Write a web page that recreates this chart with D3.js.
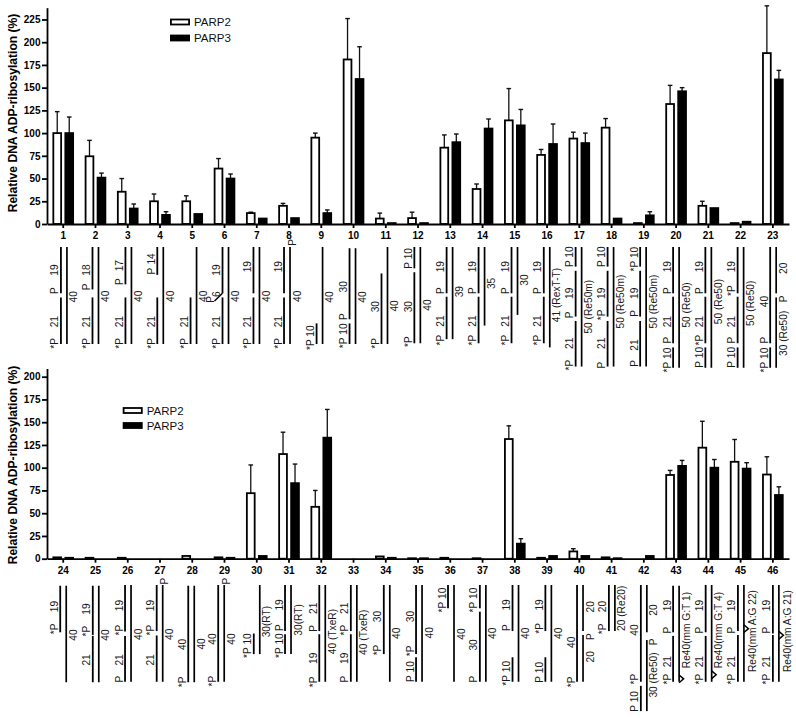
<!DOCTYPE html>
<html><head><meta charset="utf-8">
<script src="https://cdn.jsdelivr.net/npm/d3@7"></script>
<style>
html,body{margin:0;padding:0;background:#fff}
svg{display:block}
text{font-family:"Liberation Sans",Arial,sans-serif}
</style></head><body><div id="chart"></div>
<script>
const seriesNames = ["PARP2","PARP3"];
const categoriesTop = d3.range(1,24).map(String);
const categoriesBottom = d3.range(24,47).map(String);
const yTicksTop = [0,25,50,75,100,125,150,175,200,225];
const yTicksBottom = [0,25,50,75,100,125,150,175,200];
const yTitle = "Relative DNA ADP-ribosylation (%)";

const parp2Top =    [100,74.5,35.5,25,25,61,12,20,95,181,6,6.5,84,38.5,114,76,94,106,1,132,20,1,188];
const parp2TopErr = [123.6,92,50,33,31,72,13,22.7,100,226,12,13,98,44,149,82,101,116,null,152.5,25,null,240];
const parp3Top =    [100,51,17,10,11,50,6,6.5,12,159.5,1,1,90,105,108.5,88,89,6,9.5,146,17.5,2.5,159];
const parp3TopErr = [117.7,56,22,13.5,null,55,null,null,15.5,195,null,null,99,115.5,126,110,100,null,13.5,150,null,null,169];

const parp2Bottom =    [1.5,1,1,0,3,1.5,72,115,57,0,2.5,0.5,1,0.5,131.5,1,8,1.5,0,92,122,106.5,92.5];
const parp2BottomErr = [null,null,null,null,null,null,103,139,75,null,null,null,null,null,146,null,11,null,null,97,151,131,112];
const parp3Bottom =    [1,0,0,0,0,1,3,83,133,0,1,0.5,0,0,16.5,3,3,0.5,3,102,100,99,70];
const parp3BottomErr = [null,null,null,null,null,null,null,104,164,null,null,null,null,null,22,null,null,null,null,108,109,105.5,79];

// Substrate sketches: strands and labels, in nucleotide units counted from the top of the duplex.
const std = (a,b,c,d,r) => [["*P","l",39.7],["21","l",30.8],["P","l",a],[b,"l",c],[d,"r",r]];
const diagramsTop = [
 {l:[[0,19.1],[20.8,40]],r:[[0,40]],t:std(18,"19",9.5,"40",20.5)},
 {l:[[0,17.5],[20.8,40]],r:[[0,40]],t:std(16.4,"18",9.5,"40",20.3)},
 {l:[[0,15.4],[20.8,40]],r:[[0,40]],t:std(14.3,"17",7.7,"40",20.3)},
 {l:[[0,11.5],[20.8,40]],r:[[0,40]],t:std(9.9,"14",4.9,"40",20.3)},
 {l:[[20.8,40]],r:[[0,40]],t:[["*P","l",39.7],["21","l",30.8],["40","r",20.3]]},
 {l:[[0,19.1],[20.8,40]],r:[[0,40]],flap:true,t:[["*P","l",39.7],["21","l",30.8],["P","f",21.6],["6","l",19.5],["19","l",9.5],["40","r",20.3]]},
 {l:[[0,19.1],[20.8,40]],r:[[0,40]],t:[["*P","l",39.7],["21","l",30.8],["19","l",8.1],["40","r",20.3]]},
 {l:[[0,19.1],[20.8,40]],r:[[0,40]],t:[["*P","l",39.7],["21","l",30.8],["19","l",8.1],["40","r",20.3],["P","c",-1.9]]},
 {l:[[31.5,40]],r:[[0,40]],t:[["*P 10","l",37.4],["40","r",20.6]]},
 {l:[[0.5,29.8],[31.5,40]],r:[[0.5,40]],t:[["*P 10","l",36.6],["P","l",28.7],["30","l",16.4],["40","r",20.6]]},
 {l:[[10.9,40]],r:[[0,40]],t:[["*P","l",39.7],["30","l",24.6],["40","r",24.3]]},
 {l:[[0,8.8],[10.4,39.7]],r:[[0,39.7]],t:[["P 10","l",4.7],["*P","l",39],["30","l",24.6],["40","r",23.9]]},
 {l:[[0,19.1],[20.5,38]],r:[[0,38]],t:[["*P","l",38.4],["21","l",30.5],["P","l",18],["19","l",8.1],["39","r",18.4]]},
 {l:[[0,19.1],[20.5,39.7]],r:[[0,32.4]],t:[["*P","l",38.4],["21","l",30.5],["P","l",18],["19","l",8.1],["35","r",15]]},
 {l:[[0,19.1],[20.5,39.7]],r:[[0,28]],t:[["*P","l",38.4],["21","l",30.5],["P","l",18],["19","l",8.1],["30","r",13.6]]},
 {l:[[0,19.1],[20.5,39.7]],r:[[0,41.4]],t:[["*P","l",38.4],["21","l",30.5],["P","l",18],["19","l",8.1],["41 (RexT-T)","r",19.8]]},
 {l:[[0,8.1],[9.8,28.7],[30.5,49.3]],r:[[0,49.3]],t:[["*P","l",48.7],["21","l",39.7],["P","l",28],["19","l",19.1],["P 10","l",4],["50 (Re50m)","r",24.6]]},
 {l:[[0,8.1],[9.8,28.7],[30.5,49.3]],r:[[0,49.3]],t:[["P","l",48.7],["21","l",39.7],["*P","l",28],["19","l",19.1],["P 10","l",4],["50 (Re50m)","r",22.5]]},
 {l:[[0,8.1],[9.8,28.7],[30.5,49.3]],r:[[0,49.3]],t:[["P","l",48],["21","l",40.4],["P","l",27.4],["19","l",19.1],["*P 10","l",5],["50 (Re50m)","r",22.5]]},
 {l:[[0,19.1],[20.5,39.7],[41.4,49.8]],r:[[0,49.8]],t:[["*P 10","l",46.6],["P","l",38.4],["21","l",30.8],["P","l",18],["19","l",8.1],["50 (Re50)","r",23.9]]},
 {l:[[0,19.1],[20.5,39.7],[41.4,49.8]],r:[[0,49.8]],t:[["P 10","l",45.5],["*P","l",38.4],["21","l",30.8],["P","l",18],["19","l",8.1],["50 (Re50)","r",22.5]]},
 {l:[[0,19.1],[20.5,39.7],[41.4,49.8]],r:[[0,49.8]],t:[["P 10","l",45.5],["P","l",38.4],["21","l",30.8],["*P","l",18],["19","l",8.1],["50 (Re50)","r",23.2]]},
 {l:[[0,39.7],[41.4,49.8]],r:[[0,19.1],[20.8,49.8]],t:[["*P 10","l",46.6],["P","l",38.4],["40","l",22.5],["20","r",8.8],["P","r",21.4],["30 (Re50)","r",35.6]]}
];
const diagramsBottom = [
 {l:[[0.3,19.5]],r:[[0.3,40.1]],t:[["*P","l",18.1],["19","l",8.9],["40","r",20.6]]},
 {l:[[0.3,20.6],[21,40.1]],r:[[0.3,40.1]],t:[["*P","l",19],["19","l",9.9],["21","l",30.9],["40","r",20.6]]},
 {l:[[0,19.2],[21,39.9]],r:[[0,39.9]],t:[["*P","l",18.6],["19","l",8.5],["P","l",38.8],["21","l",30.9],["40","r",20.3]]},
 {l:[[0,19],[20.8,39.9]],r:[[0,39.9]],t:[["*P","l",18.6],["19","l",8.5],["21","l",30.9],["40","r",20.3],["P","c",-1.6]]},
 {l:[[0.3,40.1]],r:[[0.3,40.1]],t:[["*P","l",39.9],["40","l",24.5],["40","r",24.3]]},
 {l:[[0,39.9]],r:[[0,39.9]],t:[["*P","l",39.6],["40","l",22.3],["40","r",22.3],["P","c",-1.6]]},
 {l:[[20,28.5]],r:[[0,28.5]],t:[["*P 10","l",25],["30(RT)","r",15.1]]},
 {l:[[0,19],[20.3,28.5]],r:[[0,28.5]],t:[["*P 10","l",25],["P","l",17.6],["19","l",8.2],["30(RT)","r",14.4]]},
 {l:[[0,19],[20.3,39.9]],r:[[0,39.9]],t:[["*P","l",39.9],["19","l",30.2],["P","l",17.9],["21","l",9.6],["40 (TxeR)","r",19.2]]},
 {l:[[0,19],[20.3,39.9]],r:[[0,39.9]],t:[["P","l",38.8],["19","l",30.2],["*P","l",18.6],["21","l",9.6],["40 (TxeR)","r",19.5]]},
 {l:[[0,28.5]],r:[[0,39.9]],t:[["*P","l",26.8],["30","l",13],["40","r",19.9]]},
 {l:[[0,28.5],[29.8,39.9]],r:[[0,39.9]],t:[["P 10","l",35.7],["*P","l",27.2],["30","l",13],["40","r",19.7]]},
 {l:[[0,9.6]],r:[[0,39.9]],t:[["*P 10","l",6.2],["40","r",20.2]]},
 {l:[[0,9.6],[11,39.9]],r:[[0,39.9]],t:[["*P 10","l",6.2],["30","l",24.7],["P","l",38.8],["40","r",19.9]]},
 {l:[[0,19],[29.8,39.9]],r:[[0,39.9]],t:[["*P 10","l",36.4],["P","l",17.6],["19","l",8.2],["40","r",19.9]]},
 {l:[[0,19],[29.8,39.9]],r:[[0,39.9]],t:[["P 10","l",36],["*P","l",17.9],["19","l",8.2],["40","r",19.9]]},
 {l:[[0,39.9]],r:[[0,19],[20.6,39.9]],t:[["*P","l",39.9],["40","l",23.6],["20","r",9],["P","r",21.3],["20","r",29.6]]},
 {l:[[0,19]],r:[[0,19]],t:[["*P","l",18.1],["20","l",8.9],["20 (Re20)","r",9.6]]},
 {l:[[0,39.9],[41.6,52]],r:[[0,19.5],[22.7,52]],t:[["P 10","l",48],["*P","l",38.8],["40","l",18.6],["20","r",10.3],["P","r",23.4],["30 (Re50)","r",37.1]]},
 {l:[[0.3,19.5],[21,39.9]],r:[[0.3,39.9]],chev:38.7,t:[["*P","l",38.8],["21","l",31.6],["P","l",18.6],["19","l",8.5],["Re40(mm G:T 1)","r",18.6]]},
 {l:[[0,19.5],[21,39.9]],r:[[0,39.9]],chev:37,t:[["*P","l",38.8],["21","l",31.6],["P","l",18.6],["19","l",8.5],["Re40(mm G:T 4)","r",18.6]]},
 {l:[[0,19],[20.6,39.9]],r:[[0,39.9]],chev:18,t:[["*P","l",38.8],["21","l",31.6],["P","l",18.6],["19","l",8.5],["Re40(mm A:G 22)","R",19]]},
 {l:[[0,20],[20.6,39.9]],r:[[0,39.9]],chev:20.7,t:[["*P","l",38.8],["21","l",31.6],["P","l",18.6],["19","l",8.5],["Re40(mm A:G 21)","R",19]]}
];
// Hand-drawn sketches sit slightly off their tick; this is the drift of each one in pixels.
const driftTop = [-2.3,-3,-2.3,-2.7,-1.7,-2,-3.3,-5,-4.7,-4,-4.3,-3.7,-3.7,-4,-3.3,-3.3,-3.7,-4,-3.7,-3,-3,-3,-2.7];
const driftBottom = [-3,-2.7,-2.7,-3.3,-4,-6.3,-3,-4,-2,-2.7,-2,-2,-2.3,-2.7,-2.3,-1.7,-2.3,-2.7,-3,-3,-2.7,-2.7,0];

const W=796,H=718;
const svg=d3.select("#chart").append("svg").attr("width",W).attr("height",H).attr("viewBox",`0 0 ${W} ${H}`);
const ntScale=d3.scaleLinear().domain([0,40]).range([0,97]);

function drawPanel(o){
  const g=svg.append("g");
  const x=d3.scaleBand().domain(o.categories).range([47.1,789]);
  const y=d3.scaleLinear().domain([0,o.yMax]).range([o.base,o.base-o.yMax*o.k]);
  const x1=d3.scaleBand().domain(seriesNames).range([-12,12]).paddingInner(.35).paddingOuter(.175);

  o.series.forEach((s,si)=>{
    const name=seriesNames[si];
    const rows=o.categories.map((c,i)=>({c,v:s.v[i],e:s.e[i]}));
    const sg=g.append("g");
    const cx=d=>x(d.c)+x.bandwidth()/2+x1(name);
    sg.selectAll("line.err").data(rows.filter(d=>d.e!=null)).join("line")
      .attr("x1",d=>cx(d)+x1.bandwidth()/2).attr("x2",d=>cx(d)+x1.bandwidth()/2)
      .attr("y1",d=>y(d.v)).attr("y2",d=>y(d.e)).attr("stroke","#111").attr("stroke-width",1.3);
    sg.selectAll("line.cap").data(rows.filter(d=>d.e!=null)).join("line")
      .attr("x1",d=>cx(d)+x1.bandwidth()/2-2.3).attr("x2",d=>cx(d)+x1.bandwidth()/2+2.3)
      .attr("y1",d=>y(d.e)).attr("y2",d=>y(d.e)).attr("stroke","#111").attr("stroke-width",1.4);
    sg.selectAll("rect").data(rows.filter(d=>d.v>0)).join("rect")
      .attr("x",cx).attr("width",x1.bandwidth())
      .attr("y",d=>y(d.v)).attr("height",d=>o.base-y(d.v))
      .attr("fill",si?"#000":"#fff").attr("stroke","#000").attr("stroke-width",1.8);
  });

  const ax=g.append("g").attr("transform",`translate(0,${o.base})`)
    .call(d3.axisBottom(x).tickSize(4).tickSizeOuter(0).tickPadding(4));
  const ay=g.append("g").attr("transform","translate(47,0)")
    .call(d3.axisLeft(y).tickValues(o.ticks).tickSize(5).tickSizeOuter(0).tickPadding(1.5));
  [ax,ay].forEach(a=>{
    a.selectAll("path,line").attr("stroke","#000").attr("stroke-width",1.8);
    a.selectAll("text").attr("font-size",10).attr("font-weight","bold").attr("fill","#000")
      .style("font-family",'"Liberation Sans",Arial,sans-serif');
  });

  g.append("text").attr("transform",`translate(${o.titleX},${o.titleY}) rotate(-90)`)
    .attr("text-anchor","middle").attr("dominant-baseline","central")
    .attr("font-size",12.1).attr("font-weight","bold").text(yTitle);

  seriesNames.forEach((n,i)=>{
    const cy=o.legendY[i];
    g.append("rect").attr("x",o.legendX+.9).attr("y",cy-2.5).attr("width",18.2).attr("height",5)
      .attr("fill",i?"#000":"#fff").attr("stroke","#000").attr("stroke-width",1.8);
    g.append("text").attr("x",o.legendX+24).attr("y",cy).attr("dominant-baseline","central")
      .attr("font-size",11.5).attr("fill","#111").text(n);
  });

  o.diagrams.forEach((d,i)=>{
    const lx=x(o.categories[i])+x.bandwidth()/2+o.drift[i], rx=lx+6;
    const dg=g.append("g");
    const yy=n=>o.sketchTop+ntScale(n);
    const draw=(segs,px,w)=>dg.selectAll(null).data(segs).join("line")
      .attr("x1",px).attr("x2",px).attr("y1",s=>yy(s[0])).attr("y2",s=>yy(s[1]))
      .attr("stroke","#000").attr("stroke-width",w);
    draw(d.l,lx,1.8); draw(d.r,rx,1.7);
    if(d.flap) dg.append("line").attr("x1",lx).attr("y1",yy(19.1)).attr("x2",lx-8).attr("y2",yy(22.3))
      .attr("stroke","#000").attr("stroke-width",1.5);
    if(d.chev!=null) dg.append("polyline").attr("fill","none").attr("stroke","#000").attr("stroke-width",1.5)
      .attr("points",[[rx,yy(d.chev-1.6)],[rx+4.5,yy(d.chev)],[rx,yy(d.chev+1.6)]].join(" "));
    const offs={l:lx-6,r:rx+7,R:rx+8.6,f:lx-11.7,c:rx+2};
    dg.selectAll("text").data(d.t).join("text")
      .attr("transform",t=>`translate(${offs[t[1]]},${yy(t[2])}) rotate(-90)`)
      .attr("text-anchor","middle").attr("dominant-baseline","central")
      .attr("font-size",10.2).attr("fill","#1a1a1a").text(t=>t[0]);
  });
}

drawPanel({categories:categoriesTop,ticks:yTicksTop,base:224,k:.909,yMax:238,
  series:[{v:parp2Top,e:parp2TopErr},{v:parp3Top,e:parp3TopErr}],
  diagrams:diagramsTop,drift:driftTop,sketchTop:247,titleX:13,titleY:113,legendX:170,legendY:[22,38]});
drawPanel({categories:categoriesBottom,ticks:yTicksBottom,base:558.7,k:.91,yMax:209,
  series:[{v:parp2Bottom,e:parp2BottomErr},{v:parp3Bottom,e:parp3BottomErr}],
  diagrams:diagramsBottom,drift:driftBottom,sketchTop:585,titleX:13,titleY:465,legendX:122.7,legendY:[410.5,425.5]});
</script></body></html>
